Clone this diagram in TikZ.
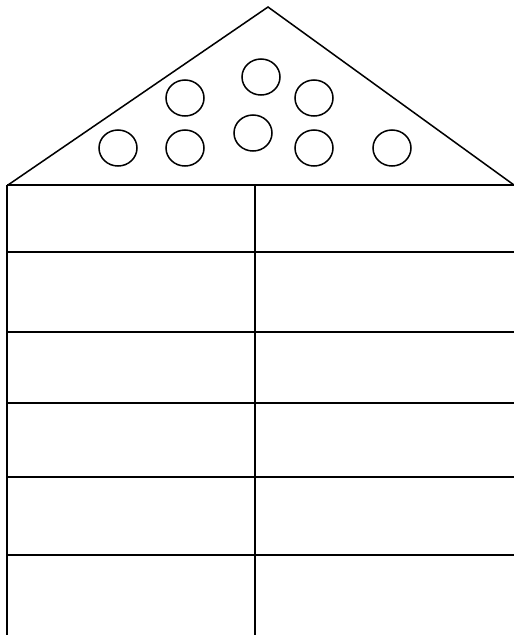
\documentclass[tikz,border=0pt]{standalone}
\usetikzlibrary{shapes.geometric}
\begin{document}
\begin{tikzpicture}[x=0.03cm, y=-0.03cm, line width=1.3pt]
\useasboundingbox (0,0) rectangle (514,635);
% roof
\coordinate (apex) at (268,7);
\coordinate (eaveL) at (8,185);
\coordinate (eaveR) at (514,185);
\draw (eaveL) -- (apex) -- (eaveR);
% holes in the roof
\tikzset{hole/.style={draw, ellipse, minimum width=1.14cm, minimum height=1.08cm, inner sep=0pt}}
\node[hole] (h1) at (118,148) {};
\node[hole] (h2) at (185,148) {};
\node[hole] (h3) at (253,133) {};
\node[hole] (h4) at (314,148) {};
\node[hole] (h5) at (392,148) {};
\node[hole] (h6) at (185,98) {};
\node[hole] (h7) at (261,77) {};
\node[hole] (h8) at (314,98) {};
% table
\coordinate (wallL) at (7,185);
\coordinate (wallM) at (255,185);
\draw (wallL) -- (7,635);
\draw (wallM) -- (255,635);
\foreach \y in {185,252,332,403,477,555}
  \draw (7,\y) -- (514,\y);
\end{tikzpicture}
\end{document}
